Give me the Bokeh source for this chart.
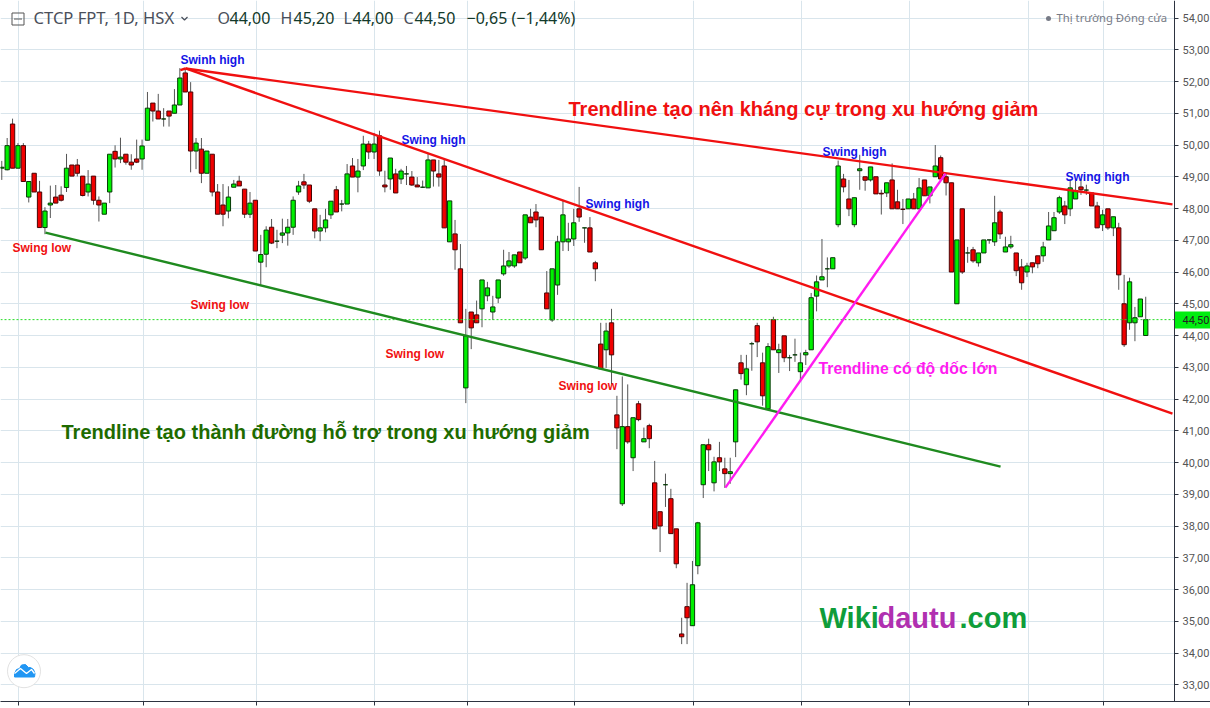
from bokeh.plotting import figure
from bokeh.models import Range1d, FixedTicker
from bokeh.core.properties import value
from bokeh.embed import file_html
from bokeh.resources import INLINE

opens = [49.27,
 49.22,50.66,49.27,49.98,48.36,49.11,48.52,47.40,48.11,48.36,
 48.42,48.66,49.37,49.37,49.02,48.52,49.02,48.26,47.82,48.52,
 49.80,49.56,49.71,49.46,49.56,49.56,50.15,51.32,51.07,50.82,
 51.07,51.00,51.26,52.27,51.67,49.81,49.87,49.11,49.71,48.52,
 48.11,47.92,48.67,48.86,48.61,47.82,48.26,46.31,46.56,47.41,
 46.97,47.16,47.23,47.41,48.52,
 48.84,48.74,47.99,47.29,47.39,47.80,48.59,48.14,48.14,49.34,
 48.99,49.34,50.03,49.78,50.29,48.74,48.93,49.09,48.93,49.09,
 48.99,48.74,48.67,48.65,49.53,49.09,49.34,46.95,47.20,46.10,
 42.35,44.74,44.65,44.84,45.25,44.74,45.18,45.94,46.19,46.19,
 46.63,46.44,47.73,47.89,47.73,45.34,44.49,45.59,46.95,46.95,
 47.04,47.99,47.39,47.39,46.29,43.73,43.55,44.40,
 41.50,38.70,41.13,40.15,41.85,40.65,41.16,39.36,38.45,39.30,
 38.86,37.91,34.60,35.46,34.86,36.75,39.30,40.56,39.36,40.15,
 39.80,39.65,40.65,43.14,42.45,43.74,44.31,43.14,41.69,44.50,
 43.46,43.99,43.30,43.39,42.86,43.39,43.55,
 45.24,45.75,46.10,46.10,47.49,48.93,48.30,47.49,49.19,49.00,
 48.90,49.00,48.48,48.49,48.90,48.21,47.98,47.99,48.30,47.99,
 48.90,48.40,49.00,49.60,49.00,48.81,45.00,47.99,46.60,46.70,
 46.29,46.60,47.01,46.95,47.89,
 46.63,46.79,46.60,46.16,46.00,46.29,46.51,46.51,47.01,47.30,
 47.89,48.08,47.99,48.30,48.68,48.58,48.49,48.08,47.49,47.99,
 47.39,47.39,45.00,44.40,44.40,44.59,44.00]

highs = [49.50,
 50.22,50.83,50.06,50.06,48.85,49.11,48.87,48.04,48.72,48.74,
 48.70,49.72,49.37,49.56,49.02,49.21,49.02,48.38,48.17,49.71,
 49.99,50.23,49.71,49.71,50.17,50.17,51.67,51.32,51.61,51.16,
 51.07,51.76,52.42,52.42,51.98,50.22,50.22,49.81,49.71,48.77,
 48.77,48.70,48.90,49.03,48.61,48.52,48.26,47.17,47.44,47.67,
 47.33,47.68,47.67,48.38,48.87,
 49.09,48.74,47.99,47.80,47.99,48.23,48.71,48.27,49.40,49.59,
 49.56,50.29,50.13,50.38,50.45,49.19,49.59,49.25,49.25,49.34,
 49.18,48.99,48.88,49.72,49.53,49.53,49.56,48.24,47.64,46.88,
 44.84,44.74,45.10,45.75,45.69,45.25,45.75,46.70,46.63,46.54,
 46.63,47.80,47.99,48.14,47.73,46.03,46.10,47.14,48.27,47.55,
 47.99,48.68,47.39,47.73,46.35,44.40,44.40,44.84,
 42.10,42.71,42.46,41.41,41.94,41.10,41.22,40.05,38.45,39.65,
 39.17,37.91,35.11,36.21,36.90,38.13,40.56,40.75,40.18,40.65,
 40.15,40.15,42.29,43.39,43.39,43.80,44.40,43.46,43.76,44.59,
 43.74,43.99,43.39,43.90,43.46,43.55,45.34,
 45.89,47.04,46.46,46.45,49.51,49.09,48.90,48.34,49.69,49.00,
 49.31,49.00,48.59,48.81,49.42,48.59,48.30,48.30,48.49,48.96,
 48.90,48.68,50.00,49.67,49.09,48.81,47.01,47.99,46.79,46.79,
 46.60,47.01,47.01,48.40,47.96,
 47.11,47.14,46.60,46.41,46.29,46.29,46.51,46.95,47.89,47.89,
 48.40,48.24,48.93,48.88,48.93,48.75,48.49,48.21,47.96,47.99,
 47.74,47.55,45.91,45.82,44.90,45.15,45.22]

lows = [48.90,
 49.20,49.27,49.27,48.85,48.19,48.52,47.40,47.19,47.70,48.17,
 48.22,48.52,49.02,49.01,48.38,48.38,48.12,47.59,47.82,48.17,
 49.29,49.43,49.38,49.22,49.43,49.22,50.15,50.74,50.82,50.58,
 50.58,51.00,51.26,51.67,49.14,49.24,48.80,49.11,48.38,47.82,
 47.44,47.69,48.67,48.71,47.70,47.70,46.66,45.58,46.15,46.88,
 46.75,46.91,46.83,47.17,48.43,
 48.62,48.17,47.06,46.97,47.25,47.67,47.89,47.91,48.14,48.99,
 48.51,49.21,49.56,49.56,49.03,48.51,48.59,48.49,48.77,48.74,
 48.71,48.68,48.65,48.65,48.69,48.69,47.39,46.95,46.07,44.40,
 41.87,43.57,44.40,44.26,45.08,44.49,45.02,45.88,46.13,46.13,
 46.29,46.38,47.55,47.41,46.70,44.84,44.43,45.28,46.66,46.66,
 46.82,47.58,46.92,46.63,45.71,42.95,42.98,42.47,
 40.42,38.63,40.59,39.73,41.30,40.65,40.45,37.91,37.18,38.60,
 37.76,36.67,34.28,34.28,34.86,36.48,38.88,39.73,39.09,39.73,
 39.20,39.33,40.17,42.61,42.12,42.89,43.32,41.79,41.66,43.55,
 42.82,43.16,42.88,43.17,42.59,43.07,43.55,
 44.76,45.75,45.52,46.10,47.41,48.51,47.76,47.41,48.59,48.56,
 48.85,48.46,47.81,48.36,47.99,47.99,47.51,47.99,47.99,47.99,
 48.40,48.16,49.00,48.93,48.41,46.00,45.00,45.94,46.29,46.29,
 46.17,46.60,46.89,46.82,47.04,
 46.63,46.73,45.87,45.44,45.84,45.96,46.12,46.32,47.01,47.30,
 47.83,47.51,47.76,48.30,48.43,48.43,48.08,47.39,47.29,47.33,
 47.13,45.44,43.64,44.18,43.82,44.59,44.00]

closes = [49.30,
 49.98,49.27,49.98,48.85,48.85,48.52,47.40,47.92,48.17,48.17,
 48.26,49.27,49.02,49.11,48.41,48.77,48.26,48.11,48.17,49.71,
 49.56,49.62,49.46,49.37,49.46,49.97,51.16,51.07,50.82,50.82,
 50.91,51.26,52.11,51.67,49.81,50.06,49.11,49.81,48.52,47.82,
 47.82,48.36,48.77,48.71,47.82,48.17,46.66,46.55,47.32,46.91,
 46.97,47.23,47.41,48.26,48.71,
 48.74,48.23,47.29,47.39,47.64,48.23,47.89,48.14,49.09,48.99,
 49.18,50.03,49.78,50.03,49.18,48.68,49.59,48.49,49.18,49.09,
 48.74,48.68,48.67,49.53,49.18,48.99,47.39,48.24,46.70,44.40,
 43.99,44.24,44.40,45.75,45.50,44.90,45.75,46.19,46.35,46.54,
 46.29,47.80,47.55,47.64,46.70,44.84,46.10,46.95,47.80,47.04,
 47.55,47.73,47.39,46.63,46.10,42.95,44.14,43.39,
 41.09,41.13,40.65,41.41,41.35,40.75,40.75,37.91,38.00,39.30,
 37.76,36.81,34.51,35.11,36.15,38.10,40.56,40.40,40.02,40.02,
 39.65,39.71,42.29,42.80,42.95,43.74,43.80,42.10,43.65,43.55,
 43.55,43.30,43.30,43.39,43.14,43.46,45.19,
 45.69,45.85,46.10,46.45,49.34,48.68,47.99,48.34,49.25,48.89,
 49.31,48.46,48.46,48.81,47.99,47.99,47.97,48.30,47.99,48.65,
 48.40,48.68,49.34,48.93,48.81,46.00,47.01,46.00,46.60,46.35,
 46.60,47.01,47.01,47.55,47.20,
 46.79,46.86,46.04,45.66,46.19,46.16,46.26,46.79,47.45,47.71,
 48.34,47.80,48.65,48.56,48.59,48.58,48.08,47.39,47.80,47.39,
 47.74,45.91,43.71,45.69,44.56,45.15,44.50]

assert len(opens) == len(highs) == len(lows) == len(closes)

day_ticks = [3.16, 26.2, 47.15, 69.1, 86.25, 106.2, 128.25, 148.25, 168.3, 190.2, 204.2]
price_ticks = list(range(33, 55))
price_labels = {t: f"{t},00" for t in price_ticks}
last_price = 44.50

resist_sessions, resist_prices = [34.05, 216.96], [52.41, 48.13]
steep_sessions, steep_prices = [34.05, 216.96], [52.41, 41.54]
peak_sessions, peak_prices = [33.1, 34.05], [52.36, 52.41]
support_sessions, support_prices = [8.1, 185.1], [47.24, 39.87]
rise_sessions, rise_prices = [134.1, 174.9], [39.21, 49.10]

def X(px):
    return (px - 1.27) / 5.396
def Y(py):
    return 44 + (335 - py) / 31.75

FONT = "Liberation Sans"
UP, DOWN = "#00f000", "#f00000"
UP_EDGE, DOWN_EDGE = "#063a06", "#4a0505"
AXIS = "#2d3340"

# The plot area runs under the price scale so that the last-price tag can sit on it
p = figure(width=1210, height=708, frame_width=1210, frame_height=701,
           output_backend="svg", toolbar_location=None, y_axis_location="right",
           x_range=Range1d(X(0), X(1210)), y_range=Range1d(Y(701), Y(0)),
           min_border=0, min_border_right=0, min_border_bottom=7,
           background_fill_color="white", border_fill_color="white")
p.outline_line_color = None

p.xaxis.ticker = FixedTicker(ticks=day_ticks)
p.yaxis.ticker = FixedTicker(ticks=price_ticks)
p.xgrid.ticker = FixedTicker(ticks=day_ticks)
p.ygrid.ticker = FixedTicker(ticks=price_ticks)
p.grid.grid_line_color = "#d9e5ec"
p.grid.grid_line_width = 1
p.yaxis.fixed_location = X(1174)
p.yaxis.major_label_overrides = price_labels
p.yaxis.major_label_text_font = "Roboto"
p.yaxis.major_label_text_font_size = "11px"
p.yaxis.major_label_text_color = "#555555"
p.yaxis.major_label_standoff = 4
p.xaxis.major_label_overrides = {t: "" for t in day_ticks}
p.xaxis.major_label_standoff = 0
for ax in (p.xaxis, p.yaxis):
    ax.axis_line_color = AXIS
    ax.major_tick_line_color = AXIS
    ax.minor_tick_line_color = None
    ax.major_tick_out = 4
    ax.major_tick_in = 0

# White scale background, covering the grid lines to the right of the axis
p.quad(left=[X(1174)], right=[X(1210)], bottom=[Y(701)], top=[Y(0)], fill_color="white", line_color=None)

idx = list(range(len(opens)))
up = [i for i in idx if closes[i] >= opens[i]]
dn = [i for i in idx if closes[i] < opens[i]]

p.segment(idx, highs, idx, lows, line_color="#555555", line_width=1)
p.vbar(up, width=0.8, bottom=[opens[i] for i in up], top=[closes[i] for i in up],
       fill_color=UP, line_color=UP_EDGE, line_width=1)
p.vbar(dn, width=0.8, bottom=[closes[i] for i in dn], top=[opens[i] for i in dn],
       fill_color=DOWN, line_color=DOWN_EDGE, line_width=1)

p.line([X(0), X(1174)], [last_price, last_price], line_color="#22dd22", line_dash="2 2", line_width=1)

p.line(resist_sessions, resist_prices, line_color="#f01010", line_width=2.4)
p.line(steep_sessions, steep_prices, line_color="#f01010", line_width=2.4)
p.line(peak_sessions, peak_prices, line_color="#f01010", line_width=2.4)
p.line(support_sessions, support_prices, line_color="#1f8a1f", line_width=2.4)
p.line(rise_sessions, rise_prices, line_color="#ff1cf0", line_width=2.4)

def put(txt, px, py, color, size, bold=True, font=FONT):
    p.text([X(px - 1)], [Y(py - 1)], text=[txt], text_color=color,
           text_font=value(font), text_font_size=value(f"{size}px"),
           text_font_style="bold" if bold else "normal",
           text_align="left", text_baseline="middle")

BLUE, RED = "#1414e6", "#f01010"
put("Swinh high", 181, 60, BLUE, 12)
put("Swing high", 402, 140, BLUE, 12)
put("Swing high", 586, 204, BLUE, 12)
put("Swing high", 823, 152, BLUE, 12)
put("Swing high", 1066, 177, BLUE, 12)
put("Swing low", 13, 248, RED, 12)
put("Swing low", 191, 305, RED, 12)
put("Swing low", 386, 354, RED, 12)
put("Swing low", 559, 386, RED, 12)
put("Trendline tạo nên kháng cự trong xu hướng giảm", 569, 109, "#f01010", 20)
put("Trendline tạo thành đường hỗ trợ trong xu hướng giảm", 62, 432, "#1e6b00", 20)
put("Trendline có độ dốc lớn", 819, 369, "#ff1cf0", 15.8)
put("Wiki", 820, 618, "#0f9d3a", 29)
put("dautu", 878, 618, "#b030b0", 29)
put(".com", 960, 618, "#0f9d3a", 29)

HEAD, VAL = "#4a4f5a", "#12392a"
SANS = "Noto Sans"
put("CTCP FPT, 1D, HSX", 34, 18, HEAD, 16.6, bold=False, font=SANS)
put("O", 218, 18, HEAD, 16, bold=False, font=SANS)
put("44,00", 230, 18, VAL, 16, bold=False, font=SANS)
put("H", 281, 18, HEAD, 16, bold=False, font=SANS)
put("45,20", 294, 18, VAL, 16, bold=False, font=SANS)
put("L", 344, 18, HEAD, 16, bold=False, font=SANS)
put("44,00", 353, 18, VAL, 16, bold=False, font=SANS)
put("C", 404, 18, HEAD, 16, bold=False, font=SANS)
put("44,50", 415, 18, VAL, 16, bold=False, font=SANS)
put("−0,65 (−1,44%)", 467, 18, VAL, 16, bold=False, font=SANS)
put("Thị trường Đóng cửa", 1057, 18, "#787b86", 11.3, bold=False, font=SANS)
p.scatter([X(1048)], [Y(18)], marker="circle", size=5, fill_color="#787b86", line_color=None)
p.scatter([X(17.5)], [Y(18.5)], marker="square", size=12, fill_color=None, line_color="#555555")
p.scatter([X(17.5)], [Y(18.5)], marker="dash", size=8, line_color="#555555")
p.line([X(181), X(184), X(187)], [Y(16.5), Y(19.5), Y(16.5)], line_color="#4a4f5a", line_width=1.2)

p.scatter([X(23.5)], [Y(670.7)], marker="circle", size=33, fill_color="white", line_color="#e2e2e2", line_width=1)
cloud_x = [14, 16, 19, 21, 25, 28, 30, 33, 34.5, 34, 14]
cloud_y = [673, 669, 668, 664.5, 664, 667, 667, 669, 673, 676.5, 676.5]
p.patch([X(v) for v in cloud_x], [Y(v) for v in cloud_y], fill_color="#2196f3", line_color="#2196f3")
p.line([X(v) for v in [14, 20, 26, 31, 34]], [Y(v) for v in [673, 668, 673, 669, 673]], line_color="white", line_width=1.3)

# Last-price tag
p.quad(left=[X(1174.5)], right=[X(1210)], bottom=[Y(328)], top=[Y(311)], fill_color="#00ee10", line_color=None)
put("44,50", 1183, 320, "#222222", 11, bold=False, font="Roboto")

open("out.html", "w").write(file_html(p, INLINE))
